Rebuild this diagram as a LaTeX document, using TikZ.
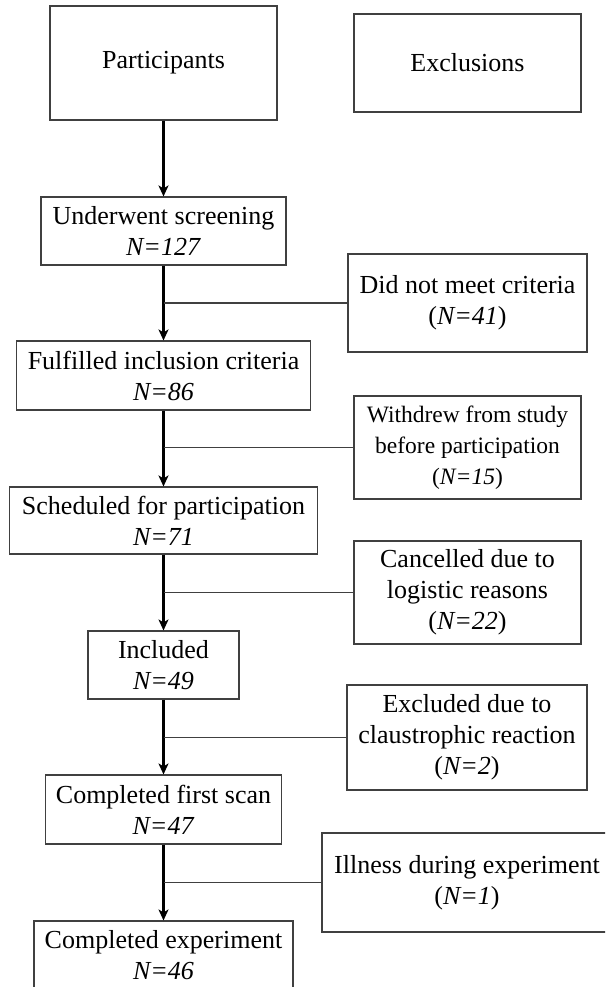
\documentclass[tikz,border=0pt]{standalone}
\usepackage{fontspec}
\setmainfont{Liberation Serif}
\usetikzlibrary{arrows.meta}
\begin{document}
\begin{tikzpicture}[x=1pt,y=-1pt,
  box/.style={draw=black!75, line width=1.1pt, align=center, inner sep=0pt,
    font=\fontsize{26}{31}\selectfont},
  smallbox/.style={box, font=\fontsize{23.5}{31}\selectfont},
  flow/.style={line width=2.1pt, -{Stealth[length=11pt,width=10pt,inset=3pt]}},
  branch/.style={draw=black!75, line width=1.1pt}]
\useasboundingbox (0,0) rectangle (605,987);
\clip (0,0) rectangle (605,987);
% main column
\node[box, minimum width=227pt, minimum height=114pt] (part) at (163.5,63) {Participants};
\node[box, minimum width=245pt, minimum height=68pt] (screen) at (163.5,231) {Underwent screening\\\textit{N=127}};
\node[box, minimum width=294pt, minimum height=69pt] (fulf) at (163.5,375.5) {Fulfilled inclusion criteria\\\textit{N=86}};
\node[box, minimum width=308pt, minimum height=67pt] (sched) at (163.5,520.5) {Scheduled for participation\\\textit{N=71}};
\node[box, minimum width=151pt, minimum height=68pt] (incl) at (163.5,665) {Included\\\textit{N=49}};
\node[box, minimum width=236pt, minimum height=69pt] (first) at (163.5,809.5) {Completed first scan\\\textit{N=47}};
\node[box, minimum width=259pt, minimum height=68pt] (comp) at (163.5,955) {Completed experiment\\\textit{N=46}};
% side column
\node[box, minimum width=227pt, minimum height=98pt] (excl) at (467.5,63) {Exclusions};
\node[box, minimum width=239pt, minimum height=98pt] (did) at (467.5,303) {Did not meet criteria\\(\textit{N=41})};
\node[smallbox, minimum width=227pt, minimum height=103pt] (withd) at (467.5,447.5) {Withdrew from study\\before participation\\(\textit{N=15})};
\node[box, minimum width=227pt, minimum height=103pt] (canc) at (467.5,592.5) {Cancelled due to\\logistic reasons\\(\textit{N=22})};
\node[box, minimum width=240pt, minimum height=105pt] (claus) at (467,737.5) {Excluded due to\\claustrophic reaction\\(\textit{N=2})};
\node[box, minimum width=290pt, minimum height=99pt] (ill) at (467,882.5) {Illness during experiment\\(\textit{N=1})};
% flow arrows
\draw[flow] (part.south) -- (screen.north);
\draw[flow] (screen.south) -- (fulf.north);
\draw[flow] (fulf.south) -- (sched.north);
\draw[flow] (sched.south) -- (incl.north);
\draw[flow] (incl.south) -- (first.north);
\draw[flow] (first.south) -- (comp.north);
% branches
\draw[branch] (did.west) -- (did.west -| screen.south);
\draw[branch] (withd.west) -- (withd.west -| fulf.south);
\draw[branch] (canc.west) -- (canc.west -| sched.south);
\draw[branch] (claus.west) -- (claus.west -| incl.south);
\draw[branch] (ill.west) -- (ill.west -| first.south);
\end{tikzpicture}
\end{document}
